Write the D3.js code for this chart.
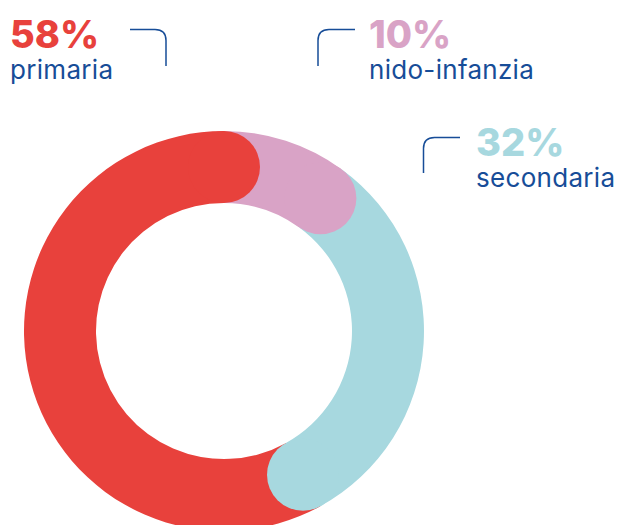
<!DOCTYPE html>
<html>
<head>
<meta charset="utf-8">
<script src="https://cdn.jsdelivr.net/npm/d3@7"></script>
<style>
  body{margin:0;background:#fff;}
  svg{display:block;}
  .pct{font-family:Inter,"Noto Sans",sans-serif;font-weight:800;font-size:38px;}
  .lbl{font-family:Inter,"Noto Sans",sans-serif;font-weight:400;font-size:26px;letter-spacing:0.3px;fill:#174d98;}
</style>
</head>
<body>
<div id="chart"></div>
<script>
// data, in drawing order (clockwise from 12 o'clock)
var categories=['nido-infanzia','secondaria','primaria'];
var values=[10,32,58];
var colors=['#d9a3c6','#a7d8df','#e8413c'];
var pctLabels=['10%','32%','58%'];

var width=617,height=525;
var cx=224,cy=331,outerR=200,innerR=128;

var svg=d3.select('#chart').append('svg')
    .attr('width',width)
    .attr('height',height);

var data=categories.map(function(c,i){
    return {name:c,value:values[i],color:colors[i],pct:pctLabels[i]};
});

var pie=d3.pie().sort(null).value(function(d){return d.value;});
var arc=d3.arc().innerRadius(innerR).outerRadius(outerR);
var slices=pie(data);

var g=svg.append('g').attr('transform','translate('+cx+','+cy+')');

g.selectAll('path.seg').data(slices)
    .enter().append('path')
    .attr('class','seg')
    .attr('d',arc)
    .style('fill',function(d){return d.data.color;});

// rounded end caps, each one sits on top of the next segment
var midR=(innerR+outerR)/2,capR=(outerR-innerR)/2;
g.selectAll('circle.cap').data(slices)
    .enter().append('circle')
    .attr('class','cap')
    .attr('cx',function(d){return midR*Math.sin(d.endAngle);})
    .attr('cy',function(d){return -midR*Math.cos(d.endAngle);})
    .attr('r',capR)
    .style('fill',function(d){return d.data.color;});

//LABELS----------------------------------------------------------------
var labelPos={
    'primaria':{x:10,y:48,line:'M130,29.5 H155 Q166,29.5 166,40.5 V66'},
    'nido-infanzia':{x:369,y:48,line:'M318,66 V40.5 Q318,29.5 329,29.5 H355'},
    'secondaria':{x:476,y:156,line:'M423.5,173 V148.5 Q423.5,137.5 434.5,137.5 H460'}
};

var labels=svg.selectAll('g.label').data(data)
    .enter().append('g')
    .attr('class','label');

labels.append('path')
    .attr('d',function(d){return labelPos[d.name].line;})
    .style('fill','none')
    .style('stroke','#174d98')
    .style('stroke-width',1.5);

labels.append('text')
    .attr('class','pct')
    .attr('x',function(d){return labelPos[d.name].x;})
    .attr('y',function(d){return labelPos[d.name].y;})
    .style('fill',function(d){return d.color;})
    .text(function(d){return d.pct;});

labels.append('text')
    .attr('class','lbl')
    .attr('x',function(d){return labelPos[d.name].x;})
    .attr('y',function(d){return labelPos[d.name].y+31;})
    .text(function(d){return d.name;});
</script>
</body>
</html>
